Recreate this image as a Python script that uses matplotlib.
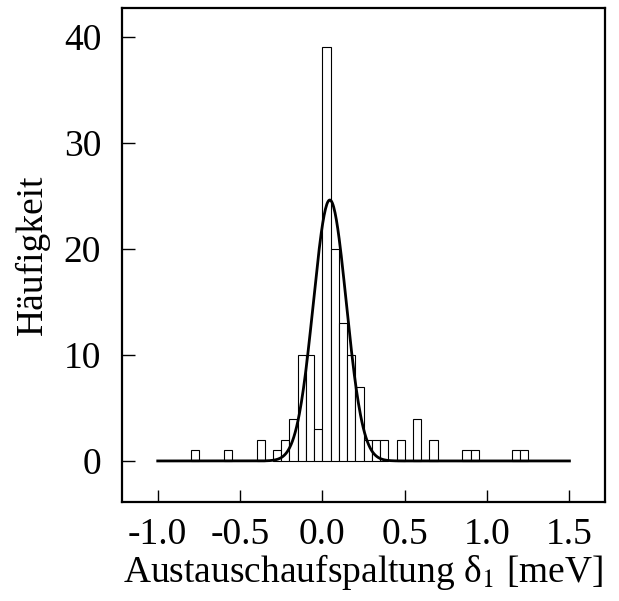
import matplotlib
matplotlib.use('Agg')
import matplotlib.pyplot as plt
import numpy as np

plt.rcParams['font.family'] = ['Liberation Serif', 'DejaVu Serif']
plt.rcParams['mathtext.fontset'] = 'stix'

# histogram of exchange splittings, bin width 0.05 meV
bin_left = [-0.80, -0.60, -0.40, -0.30, -0.25, -0.20, -0.15, -0.10, -0.05,
            0.00, 0.05, 0.10, 0.15, 0.20, 0.25, 0.30, 0.35, 0.45, 0.55,
            0.65, 0.85, 0.90, 1.15, 1.20]
counts = [1, 1, 2, 1, 2, 4, 10, 10, 3,
          39, 20, 13, 10, 7, 2, 2, 2, 2, 4,
          2, 1, 1, 1, 1]
bin_width = 0.05

# gaussian fit
fit_amp = 24.6
fit_center = 0.045
fit_sigma = 0.10
fit_range = (-1.0, 1.5)

x_ticks = [-1.0, -0.5, 0.0, 0.5, 1.0, 1.5]
y_ticks = [0, 10, 20, 30, 40]

fig = plt.figure(figsize=(6.19, 6.01), dpi=100)
ax = fig.add_axes([122 / 619, 99 / 601, 483 / 619, 494 / 601])

ax.bar(bin_left, counts, width=bin_width, align='edge',
       facecolor='white', edgecolor='black', linewidth=0.8, zorder=2)

xs = np.linspace(fit_range[0], fit_range[1], 600)
ys = fit_amp * np.exp(-(xs - fit_center) ** 2 / (2 * fit_sigma ** 2))
ax.plot(xs, ys, color='black', linewidth=2.0, zorder=3)

ax.set_xlim(-1.217, 1.716)
ax.set_ylim(-3.87, 42.7)
ax.set_xticks(x_ticks)
ax.set_xticklabels([f'{t:.1f}' for t in x_ticks])
ax.set_yticks(y_ticks)

ax.tick_params(direction='in', length=9, width=1.0, labelsize=27,
               top=False, right=False)
ax.tick_params(axis='x', pad=11)
ax.tick_params(axis='y', pad=15)
for spine in ax.spines.values():
    spine.set_linewidth(1.6)

ax.set_xlabel('Austauschaufspaltung δ$_1$ [meV]', fontsize=27, labelpad=0)
ax.set_ylabel('Häufigkeit', fontsize=27, labelpad=10)

fig.savefig('out.png', dpi=100)
